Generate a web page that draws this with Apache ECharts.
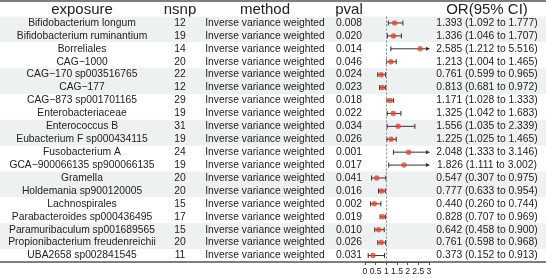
<!DOCTYPE html>
<html><head><meta charset="utf-8">
<script src="https://cdn.jsdelivr.net/npm/echarts@6/dist/echarts.min.js"></script>
<style>html,body{margin:0;padding:0;background:#fff}#c{width:546px;height:278px}</style>
</head><body><div id="c"></div>
<script>
const exposure = ["Bifidobacterium longum","Bifidobacterium ruminantium","Borreliales","CAG\u22121000","CAG\u2212170 sp003516765","CAG\u2212177","CAG\u2212873 sp001701165","Enterobacteriaceae","Enterococcus B","Eubacterium F sp000434115","Fusobacterium A","GCA\u2212900066135 sp900066135","Gramella","Holdemania sp900120005","Lachnospirales","Parabacteroides sp000436495","Paramuribaculum sp001689565","Propionibacterium freudenreichii","UBA2658 sp002841545"];
const nsnp = [12,19,14,20,22,12,29,19,31,19,24,19,20,20,15,17,15,20,11];
const method = ["Inverse variance weighted","Inverse variance weighted","Inverse variance weighted","Inverse variance weighted","Inverse variance weighted","Inverse variance weighted","Inverse variance weighted","Inverse variance weighted","Inverse variance weighted","Inverse variance weighted","Inverse variance weighted","Inverse variance weighted","Inverse variance weighted","Inverse variance weighted","Inverse variance weighted","Inverse variance weighted","Inverse variance weighted","Inverse variance weighted","Inverse variance weighted"];
const pval = ["0.008","0.020","0.014","0.046","0.024","0.023","0.018","0.022","0.034","0.026","0.001","0.017","0.041","0.016","0.002","0.019","0.010","0.026","0.031"];
const orVal = [1.393,1.336,2.585,1.213,0.761,0.813,1.171,1.325,1.556,1.225,2.048,1.826,0.547,0.777,0.440,0.828,0.642,0.761,0.373];
const ciLow = [1.092,1.046,1.212,1.004,0.599,0.681,1.028,1.042,1.035,1.025,1.333,1.111,0.307,0.633,0.260,0.707,0.458,0.598,0.152];
const ciHigh = [1.777,1.707,5.516,1.465,0.965,0.972,1.333,1.683,2.339,1.465,3.146,3.002,0.975,0.954,0.744,0.969,0.900,0.968,0.913];
const headers = ["exposure","nsnp","method","pval","OR(95% CI)"];
const axisMin = 0, axisMax = 3, axisStep = 0.5, refLine = 1;

const FONT = '"Liberation Sans", Arial, sans-serif';
const TXT = '#222';
const orText = orVal.map((v,i)=>v.toFixed(3)+' ('+ciLow[i].toFixed(3)+' to '+ciHigh[i].toFixed(3)+')');

const GL = 365, GW = 64, GT = 16.5, GH = 245.5;
const colCenters = [82, 180, 265, 349, 487];

function textAxis(col, fmt, pos, offset, idx){
  return {
    type:'category', gridIndex:1, inverse:true, data:exposure, position:pos, offset:offset, z:5,
    axisLine:{show:false}, axisTick:{show:false}, splitLine:{show:false},
    axisLabel:{show:true, interval:0, margin:0, align:'center', fontSize:10.3, fontFamily:FONT, color:TXT,
      formatter:(v,i)=>fmt[i]}
  };
}

const chart = echarts.init(document.getElementById('c'), null, {renderer:'canvas'});
chart.setOption({
  animation:false,
  backgroundColor:'#fff',
  grid:[
    {left:0, right:0, top:GT, height:GH},
    {left:GL, width:GW, top:GT, height:GH}
  ],
  xAxis:[
    {type:'value', gridIndex:0, min:0, max:1, z:0,
      axisLine:{show:true, lineStyle:{color:'#555', width:1.5}}, axisTick:{show:false}, axisLabel:{show:false}, splitLine:{show:false}},
    {type:'value', gridIndex:1, min:axisMin, max:axisMax, interval:axisStep, z:5,
      axisLine:{show:true, lineStyle:{color:'#555', width:1}},
      axisTick:{show:true, length:3, lineStyle:{color:'#555'}},
      axisLabel:{show:true, margin:5, fontSize:8.6, fontFamily:FONT, color:TXT},
      splitLine:{show:false}}
  ],
  yAxis:[
    {type:'category', gridIndex:0, inverse:true, data:exposure, z:0,
      axisLine:{show:false}, axisTick:{show:false}, axisLabel:{show:false}, splitLine:{show:false},
      splitArea:{show:true, areaStyle:{color:['#eef1f1','#ffffff']}}},
    textAxis(0, exposure, 'left', GL-colCenters[0]),
    textAxis(1, nsnp.map(String), 'left', GL-colCenters[1]),
    textAxis(2, method, 'left', GL-colCenters[2]),
    textAxis(3, pval, 'left', GL-colCenters[3]),
    textAxis(4, orText, 'right', colCenters[4]-(GL+GW))
  ],
  series:[
    {
      type:'custom', xAxisIndex:1, yAxisIndex:1, z:3,
      data: exposure.map((e,i)=>[i, ciLow[i], ciHigh[i]]),
      encode:{y:0, x:[1,2]},
      renderItem:(params, api)=>{
        const i = api.value(0);
        const lo = api.value(1), hi = api.value(2);
        const p1 = api.coord([Math.max(lo,axisMin), i]);
        const clipped = hi > axisMax;
        const p2 = api.coord([Math.min(hi,axisMax), i]);
        const st = {stroke:'#333', lineWidth:1};
        const children = [
          {type:'line', shape:{x1:p1[0], y1:p1[1], x2:p2[0]-(clipped?2:0), y2:p2[1]}, style:st},
          {type:'line', shape:{x1:p1[0], y1:p1[1]-2.5, x2:p1[0], y2:p1[1]+2.5}, style:st}
        ];
        if (clipped) {
          children.push({type:'polygon', shape:{points:[[p2[0]+1,p2[1]],[p2[0]-3,p2[1]-2],[p2[0]-3,p2[1]+2]]}, style:{fill:'#333'}});
        } else {
          children.push({type:'line', shape:{x1:p2[0], y1:p2[1]-2.5, x2:p2[0], y2:p2[1]+2.5}, style:st});
        }
        return {type:'group', children};
      }
    },
    {
      type:'scatter', xAxisIndex:1, yAxisIndex:1, z:4,
      symbol:'circle', symbolSize:5.5,
      itemStyle:{color:'#e8432d'},
      data: orVal.map((v,i)=>[v, exposure[i]]),
      markLine:{silent:true, symbol:'none', label:{show:false},
        lineStyle:{color:'#888', type:[2,2], width:1},
        data:[{xAxis:refLine}]}
    }
  ],
  graphic:[
    {type:'line', shape:{x1:0, y1:1, x2:546, y2:1}, style:{stroke:'#555', lineWidth:1.5}},
    ...headers.map((h,k)=>({type:'text', x:colCenters[k], y:9.5,
      style:{text:h, textAlign:'center', textVerticalAlign:'middle', fontSize:15, fontFamily:FONT, fill:TXT}}))
  ]
});
</script></body></html>
